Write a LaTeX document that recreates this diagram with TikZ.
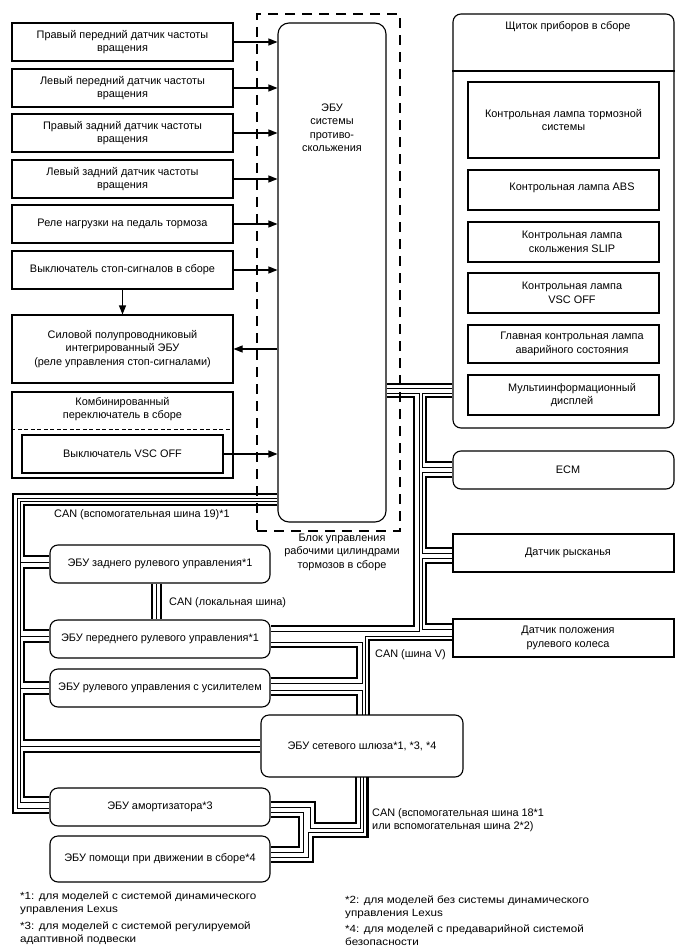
\documentclass[tikz,border=0pt]{standalone}
\usepackage{fontspec}
\setmainfont{Liberation Sans}
\newfontfamily\fnfont[FakeStretch=1.12]{Liberation Sans}
\usetikzlibrary{arrows.meta}
\begin{document}
\begin{tikzpicture}[x=1pt,y=-1pt,
  font=\fontsize{10.9}{13.5}\selectfont,
  sq/.style={draw,line width=1.1pt,align=center,inner sep=0pt},
  rd/.style={sq,rounded corners=8pt},
  txt/.style={align=center,inner sep=0pt},
  lbl/.style={align=left,inner sep=0pt,anchor=west},
  bt/.style={line width=2.4pt},
  bn/.style={line width=0.9pt},
  arr/.style={line width=1.1pt,-{Triangle[length=9pt,width=7pt]}},
]
\useasboundingbox (0,0) rectangle (688,949);
\fill[white] (0,0) rectangle (688,949);

% ---- left input boxes
\node[sq,minimum width=221pt,minimum height=38pt] (s1) at (122.5,42) {Правый передний датчик частоты\\вращения};
\node[sq,minimum width=221pt,minimum height=38pt] (s2) at (122.5,88) {Левый передний датчик частоты\\вращения};
\node[sq,minimum width=221pt,minimum height=38pt] (s3) at (122.5,133) {Правый задний датчик частоты\\вращения};
\node[sq,minimum width=221pt,minimum height=38pt] (s4) at (122.5,179) {Левый задний датчик частоты\\вращения};
\node[sq,minimum width=221pt,minimum height=38pt] (s5) at (122.5,224) {Реле нагрузки на педаль тормоза};
\node[sq,minimum width=221pt,minimum height=38pt] (s6) at (122.5,270) {Выключатель стоп-сигналов в сборе};
\node[sq,minimum width=221pt,minimum height=68pt] (s7) at (122.5,349) {Силовой полупроводниковый\\интегрированный ЭБУ\\(реле управления стоп-сигналами)};
\node[sq,minimum width=221pt,minimum height=86pt] (s8) at (122.5,435) {};
\node[txt] (s8t) at (122.5,409) {Комбинированный\\переключатель в сборе};
\draw[line width=1pt,dash pattern=on 4pt off 2.5pt] (s8.west |- 0,429) -- (s8.east |- 0,429);
\node[sq,minimum width=201pt,minimum height=38pt] (vsc) at (122.5,454) {Выключатель VSC OFF};

% ---- ECU
\node[draw,line width=1.3pt,dash pattern=on 10pt off 7pt,minimum width=143pt,minimum height=517pt,inner sep=0pt] (blk) at (328.5,272.5) {};
\node[sq,rounded corners=11pt,minimum width=108pt,minimum height=499pt] (ecu) at (332,272.5) {};
\node[txt] (ecut) at (332,128) {ЭБУ\\системы\\противо-\\скольжения};
\node[txt] (blkt) at (342,552) {Блок управления\\рабочими цилиндрами\\тормозов в сборе};

% ---- arrows
\draw[arr] (s1.east) -- (s1.east -| ecu.west);
\draw[arr] (s2.east) -- (s2.east -| ecu.west);
\draw[arr] (s3.east) -- (s3.east -| ecu.west);
\draw[arr] (s4.east) -- (s4.east -| ecu.west);
\draw[arr] (s5.east) -- (s5.east -| ecu.west);
\draw[arr] (s6.east) -- (s6.east -| ecu.west);
\draw[arr] (s7.east -| ecu.west) -- (s7.east);
\draw[arr] (s6.south) -- (s7.north);
\draw[arr] (vsc.east) -- (vsc.east -| ecu.west);

% ---- combination meter
\node[rd,minimum width=221pt,minimum height=414pt] (sh) at (563.5,221) {};
\draw[line width=1.1pt] (sh.west |- 0,71) -- (sh.east |- 0,71);
\node[txt] (sht) at (568,27) {Щиток приборов в сборе};
\node[sq,minimum width=191pt,minimum height=76pt] (l1) at (563.5,120) {Контрольная лампа тормозной\\системы};
\node[sq,minimum width=191pt,minimum height=40pt] (l2) at (563.5,190) {};
\node[txt] at ([xshift=8.5pt,yshift=2pt]l2.center) {Контрольная лампа ABS};
\node[sq,minimum width=191pt,minimum height=40pt] (l3) at (563.5,242) {};
\node[txt] at ([xshift=8.5pt]l3.center) {Контрольная лампа\\скольжения SLIP};
\node[sq,minimum width=191pt,minimum height=40pt] (l4) at (563.5,293) {};
\node[txt] at ([xshift=8.5pt]l4.center) {Контрольная лампа\\VSC OFF};
\node[sq,minimum width=191pt,minimum height=38pt] (l5) at (563.5,344) {};
\node[txt] at ([xshift=8.5pt]l5.center) {Главная контрольная лампа\\аварийного состояния};
\node[sq,minimum width=191pt,minimum height=40pt] (l6) at (563.5,395) {};
\node[txt] at ([xshift=8.5pt]l6.center) {Мультиинформационный\\дисплей};

% ---- right column
\node[rd,minimum width=221pt,minimum height=38pt] (ecm) at (563.5,470) {};
\node[txt] at ([xshift=4.5pt]ecm.center) {ECM};
\node[sq,minimum width=221pt,minimum height=38pt] (yaw) at (563.5,553) {};
\node[txt] at ([xshift=4.5pt]yaw.center) {Датчик рысканья};
\node[sq,minimum width=221pt,minimum height=38pt] (pol) at (563.5,638) {};
\node[txt] at ([xshift=4.5pt]pol.center) {Датчик положения\\рулевого колеса};

% ---- lower left ECUs
\node[rd,minimum width=220pt,minimum height=38pt] (rz) at (160,564) {ЭБУ заднего рулевого управления*1};
\node[rd,minimum width=220pt,minimum height=38pt] (rp) at (160,639) {ЭБУ переднего рулевого управления*1};
\node[rd,minimum width=220pt,minimum height=38pt] (ru) at (160,688) {ЭБУ рулевого управления с усилителем};
\node[rd,minimum width=202pt,minimum height=62pt] (gw) at (362,746) {ЭБУ сетевого шлюза*1, *3, *4};
\node[rd,minimum width=220pt,minimum height=38pt] (am) at (160,807) {ЭБУ амортизатора*3};
\node[rd,minimum width=220pt,minimum height=46pt] (pm) at (160,859) {ЭБУ помощи при движении в сборе*4};

% ---- CAN sub bus 19 (left)
\draw[bt] (ecu.west |- 0,494) -| (13,813) -- (am.west |- 0,813);
\draw[bn] (ecu.west |- 0,498) -| (17,808) -- (am.west |- 0,808);
\draw[bn] (ecu.west |- 0,501) -| (20,802) -- (am.west |- 0,802);
\draw[bn] (20,562) -- (rz.west |- 0,562);
\draw[bn] (20,636) -- (rp.west |- 0,636);
\draw[bn] (20,688) -- (ru.west |- 0,688);
\draw[bn] (20,746) -- (gw.west |- 0,746);
\draw[bt] (ecu.west |- 0,505) -| (24,556) -- (rz.west |- 0,556);
\draw[bt] (rz.west |- 0,568) -| (24,630) -- (rp.west |- 0,630);
\draw[bt] (rp.west |- 0,642) -| (24,682) -- (ru.west |- 0,682);
\draw[bt] (ru.west |- 0,694) -| (24,740) -- (gw.west |- 0,740);
\draw[bt] (gw.west |- 0,752) -| (24,797) -- (am.west |- 0,797);
\node[lbl] (c19) at (54,515) {CAN (вспомогательная шина 19)*1};

% ---- local bus
\draw[bt] (rz.south -| 152,0) -- (rp.north -| 152,0);
\draw[bn] (rz.south -| 156.5,0) -- (rp.north -| 156.5,0);
\draw[bt] (rz.south -| 161,0) -- (rp.north -| 161,0);
\node[lbl] (cl) at (169,603) {CAN (локальная шина)};

% ---- CAN V bus
\draw[bt] (ecu.east |- 0,384) -- (sh.west |- 0,384);
\draw[bn] (ecu.east |- 0,388.5) -- (sh.west |- 0,388.5);
\draw[bn] (ecu.east |- 0,393) -| (419,631) -- (rp.east |- 0,631);
\draw[bt] (ecu.east |- 0,397) -| (414,626) -- (rp.east |- 0,626);
\draw[bn] (sh.west |- 0,393) -| (422,467) -- (ecm.west |- 0,467);
\draw[bt] (sh.west |- 0,397) -| (426,462) -- (ecm.west |- 0,462);
\draw[bn] (ecm.west |- 0,472) -| (422,553) -- (yaw.west |- 0,553);
\draw[bt] (ecm.west |- 0,477) -| (426,548) -- (yaw.west |- 0,548);
\draw[bn] (yaw.west |- 0,558) -| (422,629) -- (pol.west |- 0,629);
\draw[bt] (yaw.west |- 0,563) -| (426,624) -- (pol.west |- 0,624);
\draw[bn] (pol.west |- 0,636) -| (365,715);
\draw[bt] (pol.west |- 0,640) -| (369,715);
\draw[bn] (rp.east |- 0,642) -| (362,683) -- (ru.east |- 0,683);
\draw[bt] (rp.east |- 0,647) -| (357,678) -- (ru.east |- 0,678);
\draw[bn] (ru.east |- 0,690) -| (362,715);
\draw[bt] (ru.east |- 0,695) -| (357,715);
\node[lbl] (cv) at (375,655) {CAN (шина V)};

% ---- CAN sub bus 18 / 2
\draw[bt] (356,777) -- (356,823) -- (315,823) -- (315,802) -- (am.east |- 0,802);
\draw[bn] (360,777) -- (360,828) -- (310,828) -- (310,807) -- (am.east |- 0,807);
\draw[bn] (363.5,777) -- (363.5,832) -- (308,832) -- (308,857) -- (pm.east |- 0,857);
\draw[bt] (367.5,777) -- (367.5,837) -- (313,837) -- (313,862) -- (pm.east |- 0,862);
\draw[bn] (am.east |- 0,812) -- (303,812) -- (303,852) -- (pm.east |- 0,852);
\draw[bt] (am.east |- 0,817) -- (299,817) -- (299,847) -- (pm.east |- 0,847);
\node[lbl] (c18) at (372,820) {CAN (вспомогательная шина 18*1\\или вспомогательная шина 2*2)};

% ---- footnotes
\begin{scope}[font=\fnfont\fontsize{10.4}{13}\selectfont]
\node[lbl,anchor=north west] (f1) at (20,892) {*1: для моделей с системой динамического\\управления Lexus};
\node[lbl,anchor=north west] (f3) at (20,922) {*3: для моделей с системой регулируемой\\адаптивной подвески};
\node[lbl,anchor=north west] (f2) at (345,896) {*2: для моделей без системы динамического\\управления Lexus};
\node[lbl,anchor=north west] (f4) at (345,925) {*4: для моделей с предаварийной системой\\безопасности};
\end{scope}
\end{tikzpicture}
\end{document}
